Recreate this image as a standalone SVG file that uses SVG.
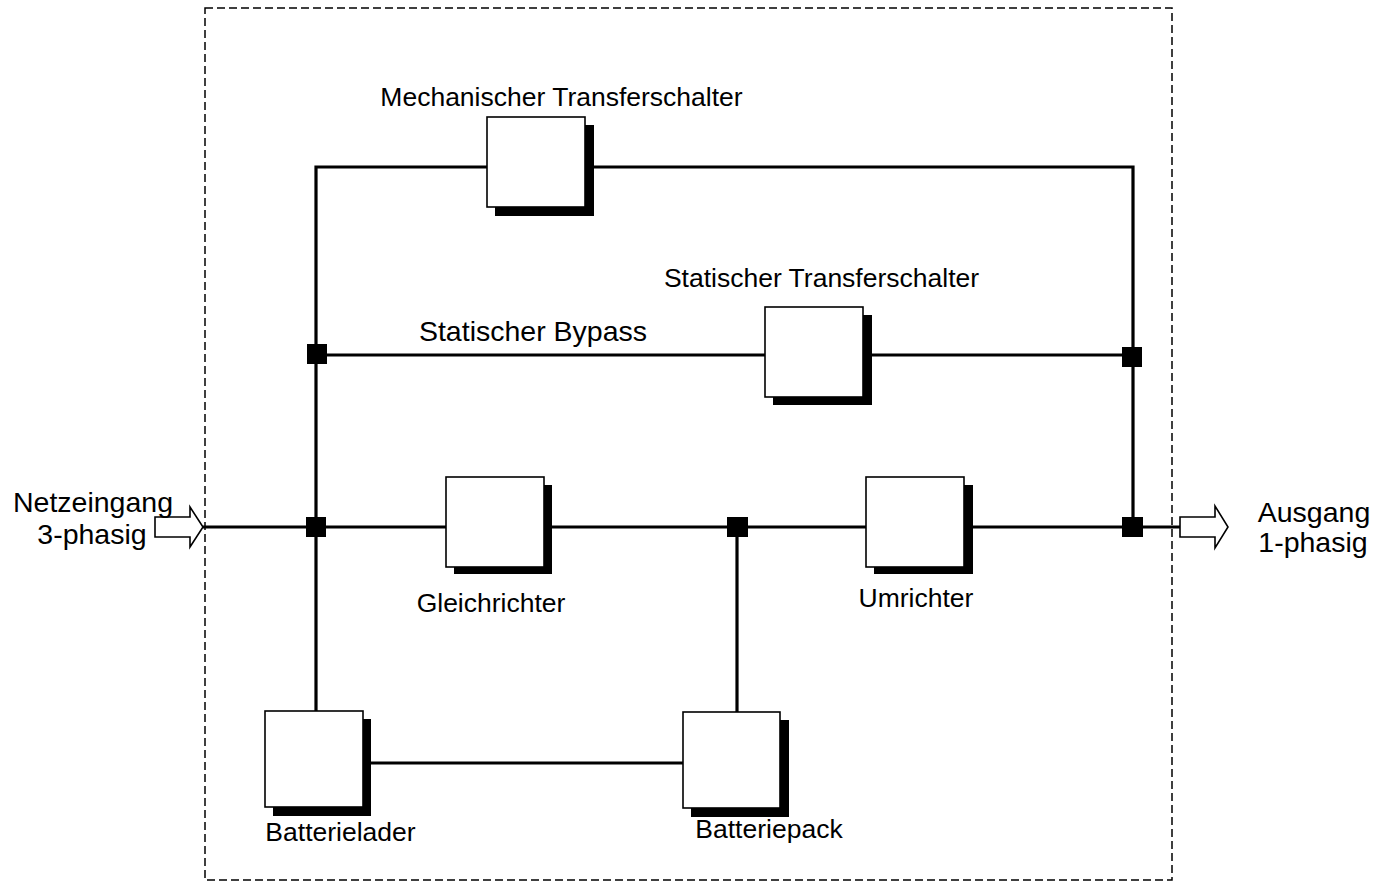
<svg xmlns="http://www.w3.org/2000/svg" width="1388" height="882" viewBox="0 0 1388 882">
<defs>
<style>
.wire{stroke:#000;stroke-width:3.2;fill:none}
.box{fill:#fff;stroke:#000;stroke-width:1.6}
.shadow{fill:#000}
.junc{fill:#000}
.lbl{font-family:"Liberation Sans",Arial,sans-serif;font-size:26.5px;fill:#000;text-anchor:middle}
.big{font-family:"Liberation Sans",Arial,sans-serif;font-size:28.5px;fill:#000;text-anchor:middle}
.frame{fill:none;stroke:#000;stroke-width:1.5;stroke-dasharray:8 4}
.port{fill:#fff;stroke:#000;stroke-width:1.6}
</style>
</defs>
<rect width="1388" height="882" fill="#fff"/>
<rect id="frame" class="frame" x="205" y="8" width="967" height="872"/>
<g id="connectors">
<polyline class="wire" points="316,711 316,167 1133,167 1133,527"/>
<line class="wire" x1="316" y1="355" x2="1133" y2="355"/>
<line class="wire" x1="203" y1="527" x2="1180" y2="527"/>
<line class="wire" x1="737" y1="527" x2="737" y2="713"/>
<line class="wire" x1="363" y1="763" x2="683" y2="763"/>
<rect class="junc" x="307" y="344" width="20" height="20"/>
<rect class="junc" x="306" y="517" width="20" height="20"/>
<rect class="junc" x="727" y="517" width="21" height="20"/>
<rect class="junc" x="1122" y="347" width="20" height="20"/>
<rect class="junc" x="1122" y="517" width="21" height="20"/>
</g>
<g id="input">
<polygon class="port" points="155,517 190,517 190,507 203,527 190,547 190,537 155,537"/>
<text class="big" x="93" y="512">Netzeingang</text>
<text class="big" x="92" y="544">3-phasig</text>
</g>
<g id="output">
<polygon class="port" points="1180,517 1215,517 1215,506 1228,527 1215,548 1215,537 1180,537"/>
<text class="big" x="1314" y="522">Ausgang</text>
<text class="big" x="1313" y="552">1-phasig</text>
</g>
<g id="mech">
<rect class="shadow" x="495" y="125" width="99" height="91"/>
<rect class="box" x="487" y="117" width="98" height="90"/>
<text class="lbl" x="561.5" y="106">Mechanischer Transferschalter</text>
</g>
<g id="bypass-label">
<text class="big" x="533" y="341">Statischer Bypass</text>
</g>
<g id="static">
<rect class="shadow" x="773" y="315" width="99" height="90"/>
<rect class="box" x="765" y="307" width="98" height="90"/>
<text class="lbl" x="821.5" y="287">Statischer Transferschalter</text>
</g>
<g id="gleich">
<rect class="shadow" x="454" y="485" width="98" height="89"/>
<rect class="box" x="446" y="477" width="98" height="90"/>
<text class="lbl" x="491" y="612">Gleichrichter</text>
</g>
<g id="umrichter">
<rect class="shadow" x="874" y="485" width="99" height="89"/>
<rect class="box" x="866" y="477" width="98" height="90"/>
<text class="lbl" x="916" y="607">Umrichter</text>
</g>
<g id="lader">
<rect class="shadow" x="273" y="719" width="98" height="97"/>
<rect class="box" x="265" y="711" width="98" height="96"/>
<text class="lbl" x="340.5" y="841">Batterielader</text>
</g>
<g id="pack">
<rect class="shadow" x="691" y="720" width="98" height="97"/>
<rect class="box" x="683" y="712" width="97" height="96"/>
<text class="lbl" x="769" y="838">Batteriepack</text>
</g>
</svg>
